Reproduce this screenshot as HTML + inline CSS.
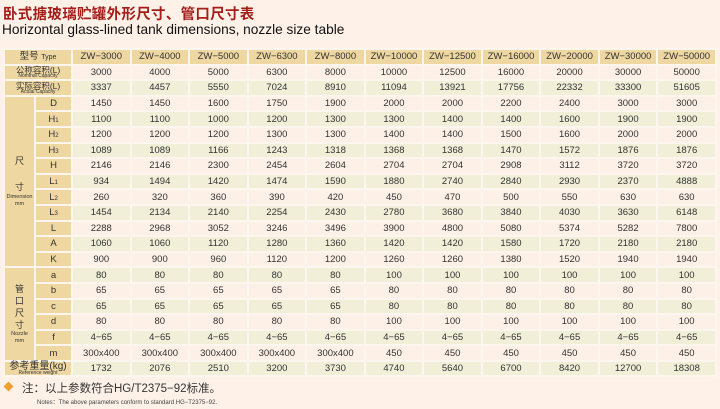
<!DOCTYPE html>
<html><head><meta charset="utf-8"><style>
body{margin:0;width:720px;height:409px;background:#fdf1e8;font-family:"Liberation Sans","Noto Sans CJK SC",sans-serif;position:relative;overflow:hidden}
.t1{position:absolute;left:3px;top:3px;font-size:14.5px;font-weight:bold;color:#a51e1a;letter-spacing:0.3px}
.t2{position:absolute;left:2px;top:22px;font-size:13.7px;color:#111}
table{position:absolute;left:3px;top:48px;width:714px;border-collapse:collapse;table-layout:fixed}
tr{height:15.6px}
td{border:2px solid #fdf6ee;height:11.6px;padding:0;text-align:center;font-size:9.5px;color:#333;line-height:11px;overflow:hidden;white-space:nowrap;box-sizing:border-box}
td.h{background:#efd7a2;color:#333}
tr.o td{background:#fdf0e6}
tr.e td{background:#f1efd8}
tr.o td.h,tr.e td.h,tr.hd td{background:#efd7a2}
td.two{overflow:visible;vertical-align:middle}
.a{display:block;height:8px;line-height:8px;font-size:8.5px;overflow:visible}
.s{display:block;height:4px;line-height:4px;font-size:5px;overflow:visible}
.g{white-space:normal;font-size:9px;line-height:13px}
.g small{font-size:5.5px;display:block;line-height:7px}
sub{font-size:6px;vertical-align:baseline;line-height:0}
.f1{position:absolute;left:22px;top:380px;font-size:11.5px;color:#333}
.f2{position:absolute;left:37px;top:397px;font-size:6px;color:#444}
.dia{position:absolute;left:5px;top:383px;width:7px;height:7px;background:#f0a030;transform:rotate(45deg)}
</style></head><body>
<div class="t1">卧式搪玻璃贮罐外形尺寸、管口尺寸表</div>
<div class="t2">Horizontal glass-lined tank dimensions, nozzle size table</div>
<table>
<colgroup><col style="width:31px"><col style="width:37px"><col span="11"></colgroup>
<tr class="hd"><td colspan="2" class="h">型号 <span style="font-size:7px">Type</span></td><td>ZW−3000</td><td>ZW−4000</td><td>ZW−5000</td><td>ZW−6300</td><td>ZW−8000</td><td>ZW−10000</td><td>ZW−12500</td><td>ZW−16000</td><td>ZW−20000</td><td>ZW−30000</td><td>ZW−50000</td></tr>
<tr class="o"><td colspan="2" class="h two"><span class="a">公称容积(L)</span><span class="s">Nominal Capacity</span></td><td>3000</td><td>4000</td><td>5000</td><td>6300</td><td>8000</td><td>10000</td><td>12500</td><td>16000</td><td>20000</td><td>30000</td><td>50000</td></tr>
<tr class="e"><td colspan="2" class="h two"><span class="a">实际容积(L)</span><span class="s">Actual Capacity</span></td><td>3337</td><td>4457</td><td>5550</td><td>7024</td><td>8910</td><td>11094</td><td>13921</td><td>17756</td><td>22332</td><td>33300</td><td>51605</td></tr>
<tr class="o"><td rowspan="11" class="h g">尺<br><br>寸<small>Dimension</small><small>mm</small></td><td class="h">D</td><td>1450</td><td>1450</td><td>1600</td><td>1750</td><td>1900</td><td>2000</td><td>2000</td><td>2200</td><td>2400</td><td>3000</td><td>3000</td></tr>
<tr class="e"><td class="h">H<sub>1</sub></td><td>1100</td><td>1100</td><td>1000</td><td>1200</td><td>1300</td><td>1300</td><td>1400</td><td>1400</td><td>1600</td><td>1900</td><td>1900</td></tr>
<tr class="o"><td class="h">H<sub>2</sub></td><td>1200</td><td>1200</td><td>1200</td><td>1300</td><td>1300</td><td>1400</td><td>1400</td><td>1500</td><td>1600</td><td>2000</td><td>2000</td></tr>
<tr class="e"><td class="h">H<sub>3</sub></td><td>1089</td><td>1089</td><td>1166</td><td>1243</td><td>1318</td><td>1368</td><td>1368</td><td>1470</td><td>1572</td><td>1876</td><td>1876</td></tr>
<tr class="o"><td class="h">H</td><td>2146</td><td>2146</td><td>2300</td><td>2454</td><td>2604</td><td>2704</td><td>2704</td><td>2908</td><td>3112</td><td>3720</td><td>3720</td></tr>
<tr class="e"><td class="h">L<sub>1</sub></td><td>934</td><td>1494</td><td>1420</td><td>1474</td><td>1590</td><td>1880</td><td>2740</td><td>2840</td><td>2930</td><td>2370</td><td>4888</td></tr>
<tr class="o"><td class="h">L<sub>2</sub></td><td>260</td><td>320</td><td>360</td><td>390</td><td>420</td><td>450</td><td>470</td><td>500</td><td>550</td><td>630</td><td>630</td></tr>
<tr class="e"><td class="h">L<sub>3</sub></td><td>1454</td><td>2134</td><td>2140</td><td>2254</td><td>2430</td><td>2780</td><td>3680</td><td>3840</td><td>4030</td><td>3630</td><td>6148</td></tr>
<tr class="o"><td class="h">L</td><td>2288</td><td>2968</td><td>3052</td><td>3246</td><td>3496</td><td>3900</td><td>4800</td><td>5080</td><td>5374</td><td>5282</td><td>7800</td></tr>
<tr class="e"><td class="h">A</td><td>1060</td><td>1060</td><td>1120</td><td>1280</td><td>1360</td><td>1420</td><td>1420</td><td>1580</td><td>1720</td><td>2180</td><td>2180</td></tr>
<tr class="o"><td class="h">K</td><td>900</td><td>900</td><td>960</td><td>1120</td><td>1200</td><td>1260</td><td>1260</td><td>1380</td><td>1520</td><td>1940</td><td>1940</td></tr>
<tr class="e"><td rowspan="6" class="h g" style="line-height:12px">管<br>口<br>尺<br>寸<small>Nozzle</small><small>mm</small></td><td class="h">a</td><td>80</td><td>80</td><td>80</td><td>80</td><td>80</td><td>100</td><td>100</td><td>100</td><td>100</td><td>100</td><td>100</td></tr>
<tr class="o"><td class="h">b</td><td>65</td><td>65</td><td>65</td><td>65</td><td>65</td><td>80</td><td>80</td><td>80</td><td>80</td><td>80</td><td>80</td></tr>
<tr class="e"><td class="h">c</td><td>65</td><td>65</td><td>65</td><td>65</td><td>65</td><td>80</td><td>80</td><td>80</td><td>80</td><td>80</td><td>80</td></tr>
<tr class="o"><td class="h">d</td><td>80</td><td>80</td><td>80</td><td>80</td><td>80</td><td>100</td><td>100</td><td>100</td><td>100</td><td>100</td><td>100</td></tr>
<tr class="e"><td class="h">f</td><td>4−65</td><td>4−65</td><td>4−65</td><td>4−65</td><td>4−65</td><td>4−65</td><td>4−65</td><td>4−65</td><td>4−65</td><td>4−65</td><td>4−65</td></tr>
<tr class="o"><td class="h">m</td><td>300x400</td><td>300x400</td><td>300x400</td><td>300x400</td><td>300x400</td><td>450</td><td>450</td><td>450</td><td>450</td><td>450</td><td>450</td></tr>
<tr class="e"><td colspan="2" class="h two"><span class="a" style="font-size:10px;height:9px;line-height:9px">参考重量(kg)</span><span class="s">Reference weight</span></td><td>1732</td><td>2076</td><td>2510</td><td>3200</td><td>3730</td><td>4740</td><td>5640</td><td>6700</td><td>8420</td><td>12700</td><td>18308</td></tr>
</table>
<div class="dia"></div>
<div class="f1">注：以上参数符合HG/T2375−92标准。</div>
<div class="f2">Notes：The above parameters conform to standard HG−T2375−92.</div>
</body></html>
